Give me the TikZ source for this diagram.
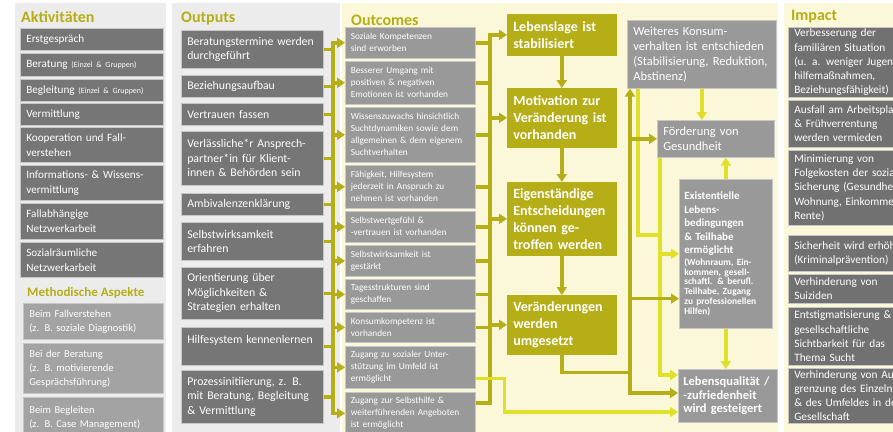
\documentclass[tikz,border=0pt]{standalone}
\usepackage{fontspec}
\setmainfont{Carlito}
\usetikzlibrary{arrows.meta,calc}
\definecolor{figO}{RGB}{181,174,22}
\definecolor{figY}{RGB}{224,224,42}
\definecolor{figPale}{RGB}{250,248,216}
\definecolor{figBg}{RGB}{236,236,236}
\definecolor{figDark}{RGB}{118,118,118}
\definecolor{figMid}{RGB}{153,153,153}
\definecolor{figLight}{RGB}{163,163,163}
\definecolor{figImp}{RGB}{113,113,113}

\tikzset{
  box/.style={anchor=north west, inner xsep=6pt, inner ysep=1pt, align=left, text=white, draw=black!22, line width=0.6pt},
  actbox/.style={box, fill=figDark, text width=131pt, minimum height=#1, font=\fontsize{11.2}{15}\selectfont},
  methbox/.style={box, fill=figLight, text width=128pt, minimum height=#1, font=\fontsize{10.5}{14}\selectfont},
  outbox/.style={box, fill=figDark, text width=130pt, minimum height=#1, font=\fontsize{11.8}{14.5}\selectfont},
  ocbox/.style={box, fill=figMid, inner xsep=5.5pt, text width=119pt, minimum height=#1, font=\fontsize{9.3}{12}\selectfont},
  olbox/.style={box, fill=figO, draw=figO, text width=97pt, minimum height=#1, font=\fontsize{14}{17}\selectfont\bfseries},
  rbox/.style={box, fill=figMid, minimum height=#1},
  impbox/.style={box, fill=figImp, text width=128pt, minimum height=#1, font=\fontsize{11.3}{14.2}\selectfont},
  head/.style={anchor=base west, inner sep=0pt, text=figO, font=\fontsize{16}{18}\selectfont\bfseries},
  tip/.style={-{Triangle[length=8pt,width=10pt]}},
  oline/.style={draw=figO, line width=3.5pt},
  oarr/.style={oline, tip},
  yline/.style={draw=figY, line width=3.5pt},
  yarr/.style={yline, tip},
}

\begin{document}
\begin{tikzpicture}[x=1pt,y=-1pt]
\useasboundingbox (0,0) rectangle (893,431);
\clip (0,0) rectangle (893,431);
\fill[white] (0,0) rectangle (893,431);
% column backgrounds
\fill[figBg] (15,3) rectangle (166,440);
\fill[figBg] (172,3) rectangle (340,440);
\fill[figPale] (342,3) rectangle (778,440);
\fill[figPale] (784,3) rectangle (900,440);

\node[head] (hakt) at (21,22) {Aktivitäten};
\node[head] (hout) at (181,22) {Outputs};
\node[head] (houtc) at (351,25) {Outcomes};
\node[head] (himp) at (791,20) {Impact};
\node[head, font=\fontsize{13}{15}\selectfont\bfseries] (hmeth) at (27,296) {Methodische Aspekte};

% Aktivitaeten
\node[actbox=22] (erst) at (20,28) {Erstgespräch};
\node[actbox=23] (berat) at (20,53) {Beratung {\fontsize{8}{9}\selectfont (Einzel \& Gruppen)}};
\node[actbox=22] (begl) at (20,79) {Begleitung {\fontsize{8}{9}\selectfont (Einzel \& Gruppen)}};
\node[actbox=22] (verm) at (20,103) {Vermittlung};
\node[actbox=35] (koop) at (20,127) {Kooperation und Fall-\\verstehen};
\node[actbox=35] (info) at (20,165) {Informations- \& Wissens-\\vermittlung};
\node[actbox=36] (fall) at (20,203) {Fallabhängige\\Netzwerkarbeit};
\node[actbox=35] (sozr) at (20,242) {Sozialräumliche\\Netzwerkarbeit};
\node[methbox=36] (mfall) at (23,303) {Beim Fallverstehen\\(z. B. soziale Diagnostik)};
\node[methbox=50] (mber) at (23,343) {Bei der Beratung\\(z. B. motivierende\\Gesprächsführung)};
\node[methbox=40] (mbegl) at (23,397) {Beim Begleiten\\(z. B. Case Management)};

% Outputs
\node[outbox=38] (otermin) at (181,30) {Beratungstermine werden\\durchgeführt};
\node[outbox=22] (obez) at (181,75) {Beziehungsaufbau};
\node[outbox=22] (overtr) at (181,103) {Vertrauen fassen};
\node[outbox=54] (oansp) at (181,131) {Verlässliche*r Ansprech-\\partner*in für Klient-\\*innen \& Behörden sein};
\node[outbox=22] (oambi) at (181,193) {Ambivalenzenklärung};
\node[outbox=38] (oselbst) at (181,222) {Selbstwirksamkeit\\erfahren};
\node[outbox=52] (oorient) at (181,267) {Orientierung über\\Möglichkeiten \&\\Strategien erhalten};
\node[outbox=38] (ohilfe) at (181,327) {Hilfesystem kennenlernen\\\mbox{}};
\node[outbox=53] (oproz) at (181,370) {Prozessinitiierung, z. B.\\mit Beratung, Begleitung\\\& Vermittlung};

% Outcomes
\node[ocbox=31] (ksoz) at (345,27) {Soziale Kompetenzen\\sind erworben};
\node[ocbox=43] (kumg) at (345,61) {Besserer Umgang mit\\positiven \& negativen\\Emotionen ist vorhanden};
\node[ocbox=55] (kwiss) at (345,107) {Wissenszuwachs hinsichtlich\\Suchtdynamiken sowie dem\\allgemeinen \& dem eigenem\\Suchtverhalten};
\node[ocbox=43] (kfaeh) at (345,165) {Fähigkeit, Hilfesystem\\jederzeit in Anspruch zu\\nehmen ist vorhanden};
\node[ocbox=31] (kwert) at (345,211) {Selbstwertgefühl \&\\-vertrauen ist vorhanden};
\node[ocbox=31] (kwirk) at (345,245) {Selbstwirksamkeit ist\\gestärkt};
\node[ocbox=30] (ktag) at (345,279) {Tagesstrukturen sind\\geschaffen};
\node[ocbox=30] (kkons) at (345,312) {Konsumkompetenz ist\\vorhanden};
\node[ocbox=42] (kzug) at (345,346) {Zugang zu sozialer Unter-\\stützung im Umfeld ist\\ermöglicht};
\node[ocbox=42] (kselbsthilfe) at (345,392) {Zugang zur Selbsthilfe \&\\weiterführenden Angeboten\\ist ermöglicht};

\node[olbox=41] (lebens) at (507,14) {Lebenslage ist\\stabilisiert};
\node[olbox=59] (motiv) at (507,88) {Motivation zur\\Veränderung ist\\vorhanden};
\node[olbox=73] (eigen) at (507,182) {Eigenständige\\Entscheidungen\\können ge-\\troffen werden};
\node[olbox=59] (veraend) at (507,295) {Veränderungen\\werden\\umgesetzt};

\node[rbox=68, text width=137pt, font=\fontsize{12.5}{15}\selectfont] (weiteres) at (627,20) {Weiteres Konsum-\\verhalten ist entschieden\\(Stabilisierung, Reduktion,\\Abstinenz)};
\node[rbox=37, text width=105pt, font=\fontsize{12.5}{15}\selectfont] (foerd) at (657,120) {Förderung von\\Gesundheit};
\node[rbox=149, inner xsep=5pt, text width=83pt, font=\bfseries] (exist) at (679,179)
  {{\fontsize{11}{13.5}\selectfont Existentielle\\Lebens-\\bedingungen\\\& Teilhabe\\ermöglicht\par}\vspace{2pt}
   {\fontsize{9.4}{9.8}\selectfont (Wohnraum, Ein-\\kommen, gesell-\\schaftl. \& berufl.\\Teilhabe, Zugang\\zu professionellen\\Hilfen)\par}};
\node[rbox=53, inner xsep=5pt, text width=89pt, font=\fontsize{12.5}{13.5}\selectfont\bfseries] (lqual) at (678,369) {Lebensqualität /\\-zufriedenheit\\wird gesteigert};

% Impact
\node[impbox=70] (imp1) at (788,27) {Verbesserung der\\familiären Situation\\(u. a. weniger Jugend-\\hilfemaßnahmen,\\Beziehungsfähigkeit)};
\node[impbox=47] (imp2) at (788,100) {Ausfall am Arbeitsplatz\\\& Frühverrentung\\werden vermieden};
\node[impbox=75] (imp3) at (788,150) {Minimierung von\\Folgekosten der sozialen\\Sicherung (Gesundheit,\\Wohnung, Einkommen,\\Rente)};
\node[impbox=36] (imp4) at (788,235) {Sicherheit wird erhöht\\(Kriminalprävention)};
\node[impbox=29] (imp5) at (788,274) {Verhinderung von\\Suiziden};
\node[impbox=58] (imp6) at (788,307) {Entstigmatisierung \&\\gesellschaftliche\\Sichtbarkeit für das\\Thema Sucht};
\node[impbox=55] (imp7) at (788,368) {Verhinderung von Aus-\\grenzung des Einzelnen\\\& des Umfeldes in der\\Gesellschaft};

% outputs -> outcomes
\coordinate (obus) at (333,0);
\foreach \n in {otermin,obez,overtr,oansp,oambi,oselbst,oorient,ohilfe,oproz}
  \draw[oline] (\n.east) -- (\n.east -| obus);
\draw[oline, line cap=rect] (obus |- ksoz.west) -- (obus |- kselbsthilfe.west);
\foreach \n in {ksoz,kumg,kwiss,kfaeh,kwert,kwirk,ktag,kkons,kzug,kselbsthilfe}
  \draw[oarr] (obus |- \n.west) -- (\n.west);

% outcomes -> olive chain
\coordinate (kbus) at (490,0);
\foreach \n in {ksoz,kumg,kwiss,kfaeh,kwert,kwirk,ktag,kkons}
  \draw[oline] (\n.east) -- (\n.east -| kbus);
\coordinate (kselbstout) at ($(kselbsthilfe.north east)+(0,11)$);
\draw[oline] (kselbstout) -- (kselbstout -| kbus);
\draw[oline, line cap=rect] (kbus |- lebens.west) -- (kbus |- kselbstout);
\foreach \n in {lebens,motiv,eigen,veraend}
  \draw[oarr] (kbus |- \n.west) -- (\n.west);
\foreach \a/\b in {lebens/motiv,motiv/eigen,eigen/veraend}
  \draw[oarr] (\a.south) -- (\b.north);

\coordinate (kzugout) at ($(kzug.south east)+(0,-10)$);
\coordinate (lqbot) at ($(lqual.north west)+(0,43)$);
\draw[yarr] (kzugout) -- ++(29,0) |- (lqbot);

% right side
\coordinate (rbus) at (630,0);
\coordinate (ybus) at (660,235);
\coordinate (lqtop) at ($(lqual.north west)+(0,6)$);
\coordinate (lqmid) at ($(lqual.north west)+(0,24)$);
\coordinate (exlow) at ($(exist.south west)+(0,-30)$);
\draw[yline] ($(weiteres.south west)+(11,0)$) |- (ybus);
\draw[yarr] (foerd.south -| ybus) |- (lqtop);
\draw[yarr] (ybus |- exist.west) -- (exist.west);
\draw[yarr] (weiteres.south) -- (weiteres.south |- foerd.north);
\draw[yarr] (exist.north) -- (exist.north |- foerd.south);
\draw[yarr] (exist.south) -- (exist.south |- lqual.north);

\draw[oline, line cap=rect] (veraend.south) -- ++(0,18) coordinate (vturn) -- (vturn -| rbus);
\draw[oline, {Triangle[length=8pt,width=10pt]}-{Triangle[length=8pt,width=10pt]}] (weiteres.south -| rbus) -- (rbus |- lqmid) -- (lqmid);
\draw[oarr] (rbus |- foerd.west) -- (foerd.west);
\draw[oarr] (rbus |- exlow) -- (exlow);
\end{tikzpicture}
\end{document}
